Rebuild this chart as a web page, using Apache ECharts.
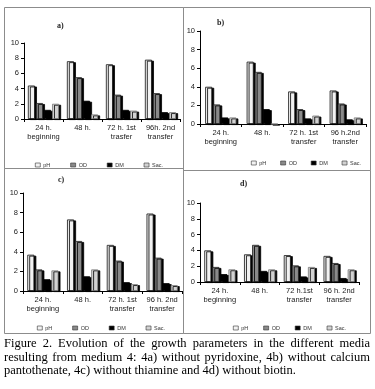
<!DOCTYPE html>
<html>
<head>
<meta charset="utf-8">
<script src="https://cdn.jsdelivr.net/npm/echarts@6/dist/echarts.min.js"></script>
<style>
  html, body { margin: 0; padding: 0; background: #fff; }
  #wrap { position: relative; width: 375px; height: 389px; }
  #chart { position: absolute; left: 0; top: 0; width: 375px; height: 389px; }
  #caption {
    position: absolute; left: 4px; top: 337px; width: 366px;
    font-family: "Liberation Serif", "DejaVu Serif", serif;
    font-size: 12.5px; line-height: 13.5px; color: #000;
    text-align: justify;
  }
</style>
</head>
<body>
<div id="wrap">
  <div id="chart"></div>
  <div id="caption">Figure 2. Evolution of the growth parameters in the different media resulting from medium 4: 4a) without pyridoxine, 4b) without calcium pantothenate, 4c) without thiamine and 4d) without biotin.</div>
</div>
<script>
// 图例 / 系列名称
const seriesNames = ["pH", "OD", "DM", "Sac."];

// 各面板的类别
const catsA = ["24 h.\nbeginning", "48 h.", "72 h. 1st\ntrasfer", "96h. 2nd\ntransfer"];
const catsB = ["24 h.\nbeginning", "48 h.", "72 h. 1st\ntransfer", "96 h.2nd\ntransfer"];
const catsC = ["24 h.\nbeginning", "48 h.", "72 h. 1st\ntransfer", "96 h. 2nd\ntransfer"];
const catsD = ["24 h.\nbeginning", "48 h.", "72 h.1st\ntransfer", "96 h. 2nd\ntransfer"];

// a) without pyridoxine
const phA = [4.4, 7.6, 7.2, 7.8];
const odA = [2.1, 5.5, 3.2, 3.4];
const dmA = [1.2, 2.4, 1.2, 0.9];
const sacA = [2.0, 0.6, 1.1, 0.9];

// b) without calcium pantothenate
const phB = [4.0, 6.7, 3.5, 3.6];
const odB = [2.1, 5.6, 1.6, 2.2];
const dmB = [0.7, 1.6, 0.6, 0.5];
const sacB = [0.7, 0, 0.9, 0.7];

// c) without thiamine
const phC = [3.7, 7.3, 4.7, 7.9];
const odC = [2.2, 5.1, 3.1, 3.4];
const dmC = [1.2, 1.5, 0.9, 0.8];
const sacC = [2.1, 2.2, 0.7, 0.6];

// d) without biotin
const phD = [4.0, 3.5, 3.4, 3.3];
const odD = [1.9, 4.7, 2.1, 2.4];
const dmD = [1.0, 1.4, 0.7, 0.5];
const sacD = [1.6, 1.6, 1.9, 1.6];

// y轴刻度
const yMin = 0, yMax = 10, yStep = 2;

/* 面板配置：位置与外框 */
const panels = [
  { tag: "a)", cats: catsA, data: [phA, odA, dmA, sacA],
    grid: { left: 24, top: 43, width: 156, height: 76 },
    title: [52, 17], legend: { left: 30, top: 157, gap: 20 },
    box: [4, 7, 179, 161] },
  { tag: "b)", cats: catsB, data: [phB, odB, dmB, sacB],
    grid: { left: 200, top: 31, width: 166, height: 93 },
    title: [212, 14], legend: { left: 246, top: 155, gap: 14 },
    box: [183, 7, 187, 163] },
  { tag: "c)", cats: catsC, data: [phC, odC, dmC, sacC],
    grid: { left: 23, top: 193, width: 159, height: 98 },
    title: [53, 171], legend: { left: 32, top: 320, gap: 20 },
    box: [4, 168, 179, 165] },
  { tag: "d)", cats: catsD, data: [phD, odD, dmD, sacD],
    grid: { left: 200, top: 203, width: 159, height: 79 },
    title: [235, 175], legend: { left: 228, top: 320, gap: 15 },
    box: [183, 170, 187, 163] }
];

// 柱子样式
const barStyles = [
  { color: "#f2f2f2", borderColor: "#111" },
  { color: "#8a8a8a", borderColor: "#222" },
  { color: "#000", borderColor: "#000" },
  { color: "#d2d2d2", borderColor: "#777" }
];

const FONT = "Liberation Sans";

let option = {
  animation: false,
  backgroundColor: "#fff",
  title: [], legend: [], grid: [], xAxis: [], yAxis: [], series: [],
  graphic: []
};

panels.forEach(function (p, i) {
  option.grid.push(Object.assign({}, p.grid));
  option.title.push({
    text: p.tag, left: p.title[0], top: p.title[1],
    textStyle: { fontFamily: "Liberation Serif", fontSize: 8, fontWeight: "bold", color: "#222" }
  });
  option.xAxis.push({
    type: "category", gridIndex: i, data: p.cats,
    axisLine: { lineStyle: { color: "#000", width: 1 } },
    axisTick: { show: true, length: 3, lineStyle: { color: "#000" } },
    axisLabel: { fontFamily: FONT, fontSize: 7.5, color: "#222", lineHeight: 8.5, margin: 5, interval: 0 }
  });
  option.yAxis.push({
    type: "value", gridIndex: i, min: yMin, max: yMax, interval: yStep,
    axisLine: { show: true, lineStyle: { color: "#000", width: 1 } },
    axisTick: { show: true, length: 3, lineStyle: { color: "#000" } },
    splitLine: { show: false },
    axisLabel: { fontFamily: FONT, fontSize: 7.5, color: "#222", margin: 5 }
  });
  option.legend.push({
    left: p.legend.left, top: p.legend.top, itemGap: p.legend.gap,
    itemWidth: 5, itemHeight: 4, icon: "rect",
    textStyle: { fontFamily: FONT, fontSize: 5.5, color: "#333", padding: [0, 0, 0, -2] },
    data: seriesNames.map(function (n, k) {
      return { name: n, itemStyle: { color: barStyles[k].color, borderColor: "#333", borderWidth: 0.6 } };
    })
  });
  seriesNames.forEach(function (n, k) {
    option.series.push({
      name: n, type: "bar", xAxisIndex: i, yAxisIndex: i,
      data: p.data[k],
      barWidth: 7, barGap: "15%",
      itemStyle: {
        color: barStyles[k].color, borderColor: barStyles[k].borderColor, borderWidth: 0.8,
        shadowColor: "#000", shadowOffsetX: 2, shadowOffsetY: 1, shadowBlur: 0
      }
    });
  });
  // 面板外框
  option.graphic.push({
    type: "rect", silent: true, z: 100,
    shape: { x: p.box[0] + 0.5, y: p.box[1] + 0.5, width: p.box[2], height: p.box[3] },
    style: { fill: null, stroke: "#8c8c8c", lineWidth: 1 }
  });
});

const chart = echarts.init(document.getElementById("chart"), null, { renderer: "canvas" });
chart.setOption(option);
</script>
</body>
</html>
